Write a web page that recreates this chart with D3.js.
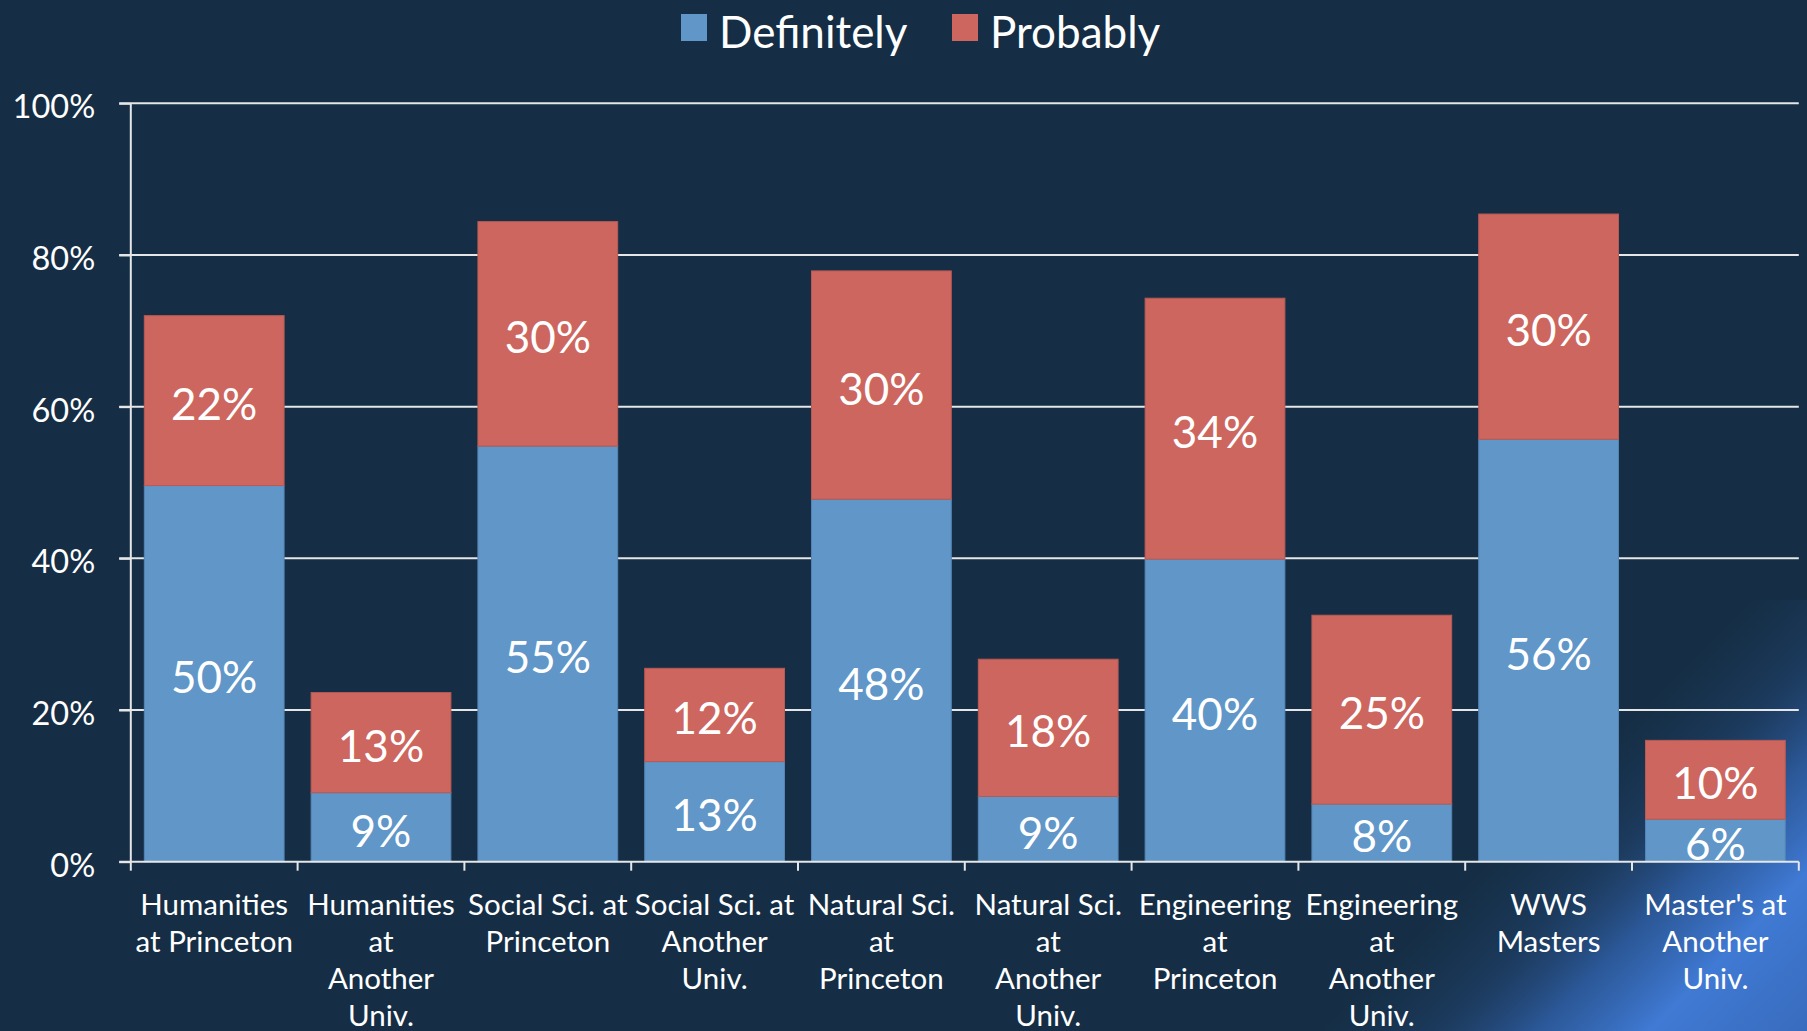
<!DOCTYPE html>
<html>
<head>
<meta charset="utf-8">
<script src="https://cdn.jsdelivr.net/npm/d3@7"></script>
<style>
  html, body { margin: 0; padding: 0; background: #152e45; overflow: hidden; }
  svg { display: block; }
  text { font-family: Lato, "Open Sans", sans-serif; fill: #ffffff; }
</style>
</head>
<body>
<svg id="chart" width="1807" height="1031"></svg>
<script>
// ---------- data ----------
const categories = [
  "Humanities\nat Princeton",
  "Humanities\nat\nAnother\nUniv.",
  "Social Sci. at\nPrinceton",
  "Social Sci. at\nAnother\nUniv.",
  "Natural Sci.\nat\nPrinceton",
  "Natural Sci.\nat\nAnother\nUniv.",
  "Engineering\nat\nPrinceton",
  "Engineering\nat\nAnother\nUniv.",
  "WWS\nMasters",
  "Master's at\nAnother\nUniv."
];
const definitely = [49.6, 9.1, 54.8, 13.2, 47.8, 8.6, 39.9, 7.6, 55.7, 5.6];
const probably   = [22.4, 13.2, 29.6, 12.3, 30.1, 18.1, 34.4, 24.9, 29.7, 10.4];
const seriesNames = ["Definitely", "Probably"];
const seriesColors = ["#6096c8", "#cd665e"];
const yTicks = [0, 20, 40, 60, 80, 100];

// ---------- layout ----------
const W = 1807, H = 1031;
const plotL = 130.8, plotR = 1798.8, plotT = 103.3, plotB = 861.7;

const svg = d3.select("#chart");

// background
svg.append("rect").attr("width", W).attr("height", H).attr("fill", "#152e45");

// bottom-right diagonal glow
const defs = svg.append("defs");
const lg = defs.append("linearGradient").attr("id", "glow")
  .attr("gradientUnits", "userSpaceOnUse")
  .attr("x1", 1560).attr("y1", 784).attr("x2", 1807).attr("y2", 1031);
lg.append("stop").attr("offset", "0%").attr("stop-color", "#1d3d62").attr("stop-opacity", 0);
lg.append("stop").attr("offset", "25%").attr("stop-color", "#24497a").attr("stop-opacity", 0.45);
lg.append("stop").attr("offset", "45%").attr("stop-color", "#2f5fa6").attr("stop-opacity", 0.85);
lg.append("stop").attr("offset", "68%").attr("stop-color", "#407ad4").attr("stop-opacity", 1);
lg.append("stop").attr("offset", "100%").attr("stop-color", "#3a6fc4").attr("stop-opacity", 0.95);
svg.append("rect").attr("x", 1300).attr("y", 600).attr("width", 507).attr("height", 431)
  .attr("fill", "url(#glow)");

// scales
const x = d3.scaleBand().domain(categories).range([plotL, plotR])
  .paddingInner(0.162).paddingOuter(0.081);
const y = d3.scaleLinear().domain([0, 100]).range([plotB, plotT]);

// gridlines
svg.append("g").selectAll("line").data(yTicks.filter(d => d > 0)).join("line")
  .attr("x1", plotL - 11.6).attr("x2", plotR)
  .attr("y1", d => y(d)).attr("y2", d => y(d))
  .attr("stroke", "#e4e6e8").attr("stroke-width", 2);

// stacked bars
const rows = categories.map((c, i) => ({ cat: c, Definitely: definitely[i], Probably: probably[i] }));
const stack = d3.stack().keys(seriesNames)(rows);

const gBars = svg.append("g");
stack.forEach((layer, si) => {
  gBars.append("g").selectAll("rect").data(layer).join("rect")
    .attr("x", d => x(d.data.cat))
    .attr("width", x.bandwidth())
    .attr("y", d => y(d[1]))
    .attr("height", d => y(d[0]) - y(d[1]))
    .attr("fill", seriesColors[si])
    .attr("stroke", si === 0 ? "#5585b5" : "#b95a53")
    .attr("stroke-width", 1);
});

// data labels
stack.forEach((layer, si) => {
  svg.append("g").selectAll("text").data(layer).join("text")
    .attr("x", d => x(d.data.cat) + x.bandwidth() / 2)
    .attr("y", d => (y(d[0]) + y(d[1])) / 2 + 19.5)
    .attr("text-anchor", "middle")
    .style("font-size", "44px")
    .text(d => Math.round(d[1] - d[0]) + "%");
});

// y axis
const yAxis = svg.append("g").attr("transform", `translate(${plotL},0)`)
  .call(d3.axisLeft(y).tickValues(yTicks).tickFormat(d => d + "%").tickSize(11.6).tickPadding(24));
yAxis.select(".domain").attr("stroke", "#e4e6e8").attr("stroke-width", 2).attr("d", `M0,${plotT}V${plotB}`);
yAxis.selectAll(".tick line").attr("stroke", "#e4e6e8").attr("stroke-width", 2);
yAxis.selectAll(".tick text").style("font-size", "32.5px").attr("fill", "#fff")
  .style("font-family", "Lato, sans-serif").attr("dy", "0.45em");

// x axis line and ticks at band boundaries
const step = x.step();
const boundaries = d3.range(categories.length + 1).map(i => plotL + i * step);
svg.append("line").attr("x1", plotL - 11.6).attr("x2", plotR)
  .attr("y1", plotB).attr("y2", plotB).attr("stroke", "#e4e6e8").attr("stroke-width", 2);
svg.append("g").selectAll("line").data(boundaries).join("line")
  .attr("x1", d => d).attr("x2", d => d)
  .attr("y1", plotB).attr("y2", plotB + 9)
  .attr("stroke", "#e4e6e8").attr("stroke-width", 2);

// x labels
const xl = svg.append("g").selectAll("text").data(categories).join("text")
  .attr("text-anchor", "middle")
  .style("font-size", "29.5px")
  .attr("transform", d => `translate(${x(d) + x.bandwidth() / 2},915)`);
xl.selectAll("tspan").data(d => d.split("\n")).join("tspan")
  .attr("x", 0).attr("y", (d, i) => i * 37).text(d => d);

// legend
const legendItems = [
  { name: seriesNames[0], color: seriesColors[0], x: 681 },
  { name: seriesNames[1], color: seriesColors[1], x: 952 }
];
const lgG = svg.append("g").selectAll("g").data(legendItems).join("g")
  .attr("transform", d => `translate(${d.x},14)`);
lgG.append("rect").attr("width", 26).attr("height", 27).attr("fill", d => d.color);
lgG.append("text").attr("x", 38).attr("y", 34).style("font-size", "44px").text(d => d.name);
</script>
</body>
</html>
